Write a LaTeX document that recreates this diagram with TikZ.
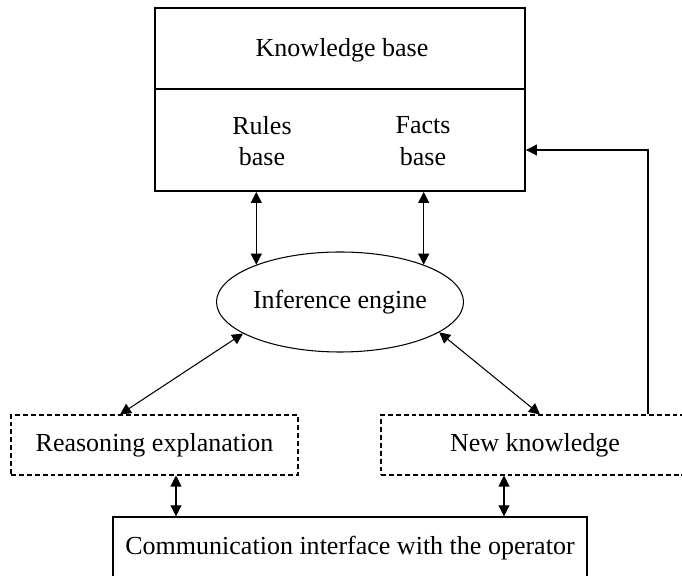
\documentclass[tikz,border=0pt]{standalone}
\usepackage{fontspec}
\setmainfont{Liberation Serif}
\usepackage{tikz}
\usetikzlibrary{arrows.meta,positioning,calc,shapes.geometric}

\begin{document}
\begin{tikzpicture}[>={Triangle[length=2.2mm,width=2.2mm]},
  font=\fontsize{14.8}{18}\selectfont, line width=0.6pt,
  box/.style={draw, rectangle, inner sep=0pt},
  part/.style={box, dash pattern=on 2.8pt off 1.7pt},
  lab/.style={inner sep=1pt, align=center}]
\path[use as bounding box, clip] (0,0) rectangle (13.64,11.52);
\node[box, line width=1.1pt, minimum width=7.4cm, minimum height=3.66cm] (kb) at (6.8,9.53) {};
\node[lab] (kbtitle) at (6.84,10.52) {Knowledge base};
\node[lab] (rules) at (5.24,8.7) {Rules\\base};
\node[lab] (facts) at (8.46,8.7) {Facts\\base};
\node[draw, ellipse, inner sep=0pt, minimum width=4.94cm, minimum height=2cm] (ie) at (6.8,5.48) {Inference engine};
\node[part, minimum width=5.74cm, minimum height=1.2cm] (reason) at (3.09,2.62) {Reasoning explanation};
\node[part, minimum width=6.16cm, minimum height=1.2cm] (new) at (10.7,2.62) {New knowledge};
\node[box, line width=0.8pt, minimum width=9.48cm, minimum height=1.24cm] (comm) at (7.0,0.56) {Communication interface with the operator};
% knowledge base split
\draw[line width=0.8pt] (kb.west |- 0,9.74) -- (kb.east |- 0,9.74);
% knowledge base <-> inference engine
\draw[<->] (kb.south -| ie.156) -- (ie.156);
\draw[<->] (kb.south -| ie.24) -- (ie.24);
% inference engine <-> outputs
\draw[<->] (ie.198) -- ([xshift=-0.69cm]reason.north);
\draw[<->] (ie.-17) -- ([xshift=0.1cm]new.north);
% outputs <-> operator
\draw[<->] ([xshift=0.43cm]reason.south) -- ([xshift=0.43cm]reason.south |- comm.north);
\draw[<->] ([xshift=-0.62cm]new.south) -- ([xshift=-0.62cm]new.south |- comm.north);
% new knowledge back to the base
\draw[->] ([xshift=2.26cm]new.north) |- ([yshift=-1.01cm]kb.east);
\end{tikzpicture}
\end{document}
